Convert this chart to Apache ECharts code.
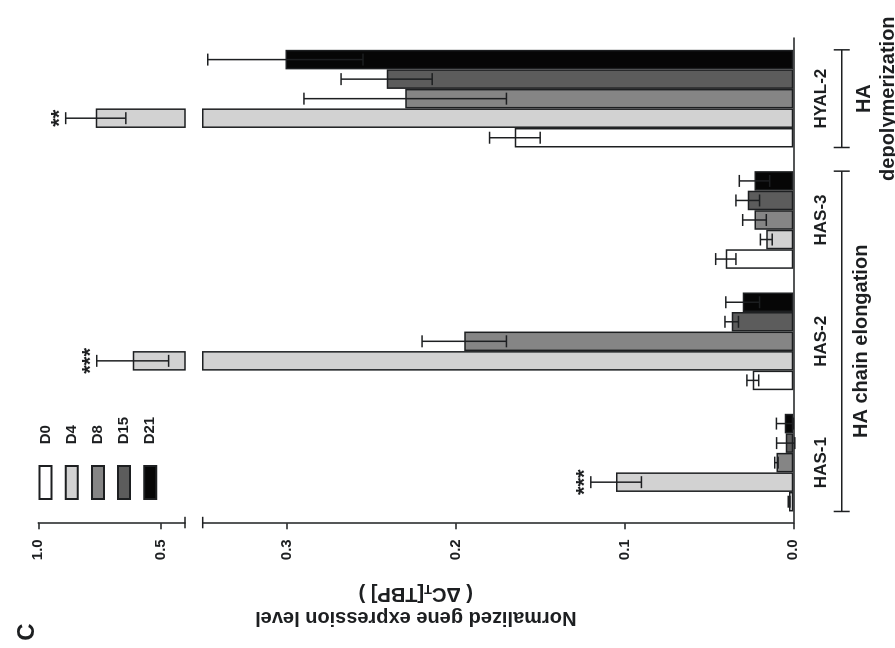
<!DOCTYPE html>
<html><head><meta charset="utf-8">
<script src="https://cdn.jsdelivr.net/npm/echarts@6/dist/echarts.min.js"></script>
<style>
html,body{margin:0;padding:0;width:895px;height:648px;overflow:hidden;background:#fff;}
#wrap{position:absolute;left:0;top:0;width:648px;height:895px;transform-origin:0 0;transform:translateY(648px) rotate(-90deg);}
#chart{width:648px;height:895px;}
</style></head><body>
<div id="wrap"><div id="chart"></div></div>
<script>
// ---- data ----
const categories = ['HAS-1', 'HAS-2', 'HAS-3', 'HYAL-2'];
const seriesNames = ['D0', 'D4', 'D8', 'D15', 'D21'];
const d0  = [0.0025, 0.024, 0.040, 0.165];
const d4  = [0.105, 0.614, 0.016, 0.765];
const d8  = [0.010, 0.195, 0.023, 0.230];
const d15 = [0.0045, 0.0365, 0.027, 0.241];
const d21 = [0.005, 0.030, 0.023, 0.301];
const d0Err  = [0.0005, 0.0035, 0.006, 0.015];
const d4Err  = [0.015, 0.147, 0.0035, 0.123];
const d8Err  = [0.001, 0.025, 0.007, 0.060];
const d15Err = [0.0054, 0.004, 0.007, 0.027];
const d21Err = [0.005, 0.010, 0.009, 0.046];
const d4Stars = ['***', '***', '', '**'];
const lowerTicks = [0, 0.1, 0.2, 0.3];
const upperTicks = [0.5, 1.0];
const breakStart = 0.35;
const breakEnd = 0.40;
const axisTitle = 'Normalized gene expression level';
const groupLabels = ['HA chain elongation', 'HA\ndepolymerization'];

// ---- styling ----
const FONT = 'Liberation Sans, Arial, sans-serif';
const INK = '#1d1f21';
const fills = ['#ffffff', '#d2d2d2', '#858585', '#5c5c5c', '#060606'];
const GAP = 0.195;
const GL = 124.7, GR = 38;

const values = [d0, d4, d8, d15, d21];
const errors = [d0Err, d4Err, d8Err, d15Err, d21Err];

const chart = echarts.init(document.getElementById('chart'), null, {renderer: 'canvas'});

const lineStyle = {color: INK, width: 1.5};
const series = [];
values.forEach((vals, i) => {
  const common = {
    type: 'bar', name: seriesNames[i], barGap: '0%', barCategoryGap: (GAP * 100) + '%',
    itemStyle: {color: fills[i], borderColor: INK, borderWidth: 1.5},
    emphasis: {disabled: true}, animation: false, clip: true
  };
  series.push(Object.assign({}, common, {xAxisIndex: 0, yAxisIndex: 0, data: vals.slice()}));
  series.push(Object.assign({}, common, {xAxisIndex: 1, yAxisIndex: 1,
    data: vals.map(v => v > breakEnd ? v : '-')}));
});

function errData(upper) {
  const out = [];
  values.forEach((vals, si) => vals.forEach((v, ci) => {
    if (upper ? v > breakEnd : v < breakStart) out.push([ci, v, errors[si][ci], si]);
  }));
  return out;
}
function renderErr(params, api) {
  const ci = api.value(0), v = api.value(1), e = api.value(2), si = api.value(3);
  const c = api.coord([ci, v]);
  const band = api.size([1, 0])[0];
  const bw = band * (1 - GAP) / 5;
  const x = c[0] + (si - 2) * bw;
  const yHi = api.coord([ci, v + e])[1];
  const yLo = api.coord([ci, v - e])[1];
  const cap = 6;
  const st = {stroke: INK, lineWidth: 1.5};
  const children = [
    {type: 'line', shape: {x1: x, y1: yHi, x2: x, y2: yLo}, style: st},
    {type: 'line', shape: {x1: x - cap, y1: yHi, x2: x + cap, y2: yHi}, style: st},
    {type: 'line', shape: {x1: x - cap, y1: yLo, x2: x + cap, y2: yLo}, style: st}
  ];
  const star = si === 1 ? d4Stars[ci] : '';
  if (star) {
    children.push({type: 'text', x: x, y: yHi - 6,
      style: {text: star, font: 'bold 22px ' + FONT, fill: INK,
        align: 'center', verticalAlign: 'middle', textAlign: 'center', textVerticalAlign: 'middle'}});
  }
  return {type: 'group', children: children};
}
series.push({type: 'custom', xAxisIndex: 0, yAxisIndex: 0, data: errData(false),
  encode: {x: 0, y: 1}, renderItem: renderErr, z: 5, animation: false, silent: true});
series.push({type: 'custom', xAxisIndex: 1, yAxisIndex: 1, data: errData(true),
  encode: {x: 0, y: 1}, renderItem: renderErr, z: 5, animation: false, silent: true});

const valLabel = {color: INK, fontFamily: FONT, fontWeight: 'bold', fontSize: 15, margin: 16,
  formatter: v => Number(v).toFixed(1)};

chart.setOption({
  animation: false,
  backgroundColor: '#fff',
  grid: [
    {left: GL, right: GR, top: 202.7, bottom: 101.7},
    {left: GL, right: GR, top: 38.3, height: 146.7}
  ],
  legend: {
    data: seriesNames, orient: 'vertical', left: 148, top: 38, padding: 0,
    itemWidth: 33, itemHeight: 12, itemGap: 11.2, icon: 'rect', selectedMode: false,
    formatter: n => '    ' + n,
    textStyle: {fontFamily: FONT, fontWeight: 'bold', fontSize: 15, color: INK}
  },
  xAxis: [
    {type: 'category', gridIndex: 0, data: categories,
      axisLine: {lineStyle: lineStyle},
      axisTick: {alignWithLabel: true, length: 9, lineStyle: lineStyle},
      axisLabel: {color: INK, fontFamily: FONT, fontWeight: 'bold', fontSize: 17, margin: 20}},
    {type: 'category', gridIndex: 1, data: categories, show: false}
  ],
  yAxis: [
    {type: 'value', gridIndex: 0, min: 0, max: breakStart,
      axisLine: {show: true, lineStyle: lineStyle},
      axisTick: {show: true, customValues: lowerTicks, length: 6, lineStyle: lineStyle},
      axisLabel: Object.assign({customValues: lowerTicks}, valLabel),
      splitLine: {show: false}},
    {type: 'value', gridIndex: 1, min: breakEnd, max: 1.0,
      axisLine: {show: true, lineStyle: lineStyle},
      axisTick: {show: true, customValues: upperTicks, length: 6, lineStyle: lineStyle},
      axisLabel: Object.assign({customValues: upperTicks}, valLabel),
      splitLine: {show: false}}
  ],
  series: series
});

// ---- annotations tied to the axes ----
const yBrk1 = chart.convertToPixel({yAxisIndex: 0}, breakStart);
const yBrk2 = chart.convertToPixel({yAxisIndex: 1}, breakEnd);
const cx = categories.map(c => chart.convertToPixel({xAxisIndex: 0}, c));
const band = cx[1] - cx[0];
const half = band * (1 - GAP) / 2;
const yTop = chart.convertToPixel({yAxisIndex: 1}, 1.0);
const yZero = chart.convertToPixel({yAxisIndex: 0}, 0);
const brY = yZero + 48.4;
const ls = {stroke: INK, lineWidth: 1.5};
function bracket(a, b) {
  return [
    {type: 'line', shape: {x1: a, y1: brY, x2: b, y2: brY}, style: ls},
    {type: 'line', shape: {x1: a, y1: brY - 8, x2: a, y2: brY + 8}, style: ls},
    {type: 'line', shape: {x1: b, y1: brY - 8, x2: b, y2: brY + 8}, style: ls}
  ];
}
const e1 = cx[0] - half, e2 = cx[2] + half, h1 = cx[3] - half, h2 = cx[3] + half;
const txt = (text, x, y, size, extra) => Object.assign({type: 'text', x: x, y: y,
  style: {text: text, font: 'bold ' + size + 'px ' + FONT, fill: INK,
    align: 'center', verticalAlign: 'middle', textAlign: 'center', textVerticalAlign: 'middle'}}, extra || {});
const graphics = [].concat(
  [
    {type: 'line', shape: {x1: GL - 5, y1: yBrk1, x2: GL + 6.5, y2: yBrk1}, style: ls},
    {type: 'line', shape: {x1: GL - 5, y1: yBrk2, x2: GL + 6.5, y2: yBrk2}, style: ls}
  ],
  bracket(e1, e2), bracket(h1, h2),
  [
    txt(groupLabels[0], (e1 + e2) / 2, brY + 19.5, 20),
    txt(groupLabels[1].split('\n')[0], (h1 + h2) / 2, brY + 22.5, 20),
    txt(groupLabels[1].split('\n')[1], (h1 + h2) / 2, brY + 46.5, 20),
    txt('C', 16, 27, 24),
    {type: 'text', x: 42, y: (yTop + yZero) / 2, rotation: Math.PI / 2,
      style: {
        text: '{a|' + axisTitle + '}\n{a|( ΔC}{s|T}{a|[TBP] )}',
        align: 'center', verticalAlign: 'middle', textAlign: 'center', textVerticalAlign: 'middle',
        fill: INK,
        rich: {
          a: {fontFamily: FONT, fontWeight: 'bold', fontSize: 20, lineHeight: 24, fill: INK, color: INK},
          s: {fontFamily: FONT, fontWeight: 'bold', fontSize: 13, lineHeight: 24, fill: INK, color: INK,
              verticalAlign: 'bottom', padding: [8, 0, 0, 0]}
        }
      }}
  ]
);
chart.setOption({graphic: graphics});
</script>
</body></html>
